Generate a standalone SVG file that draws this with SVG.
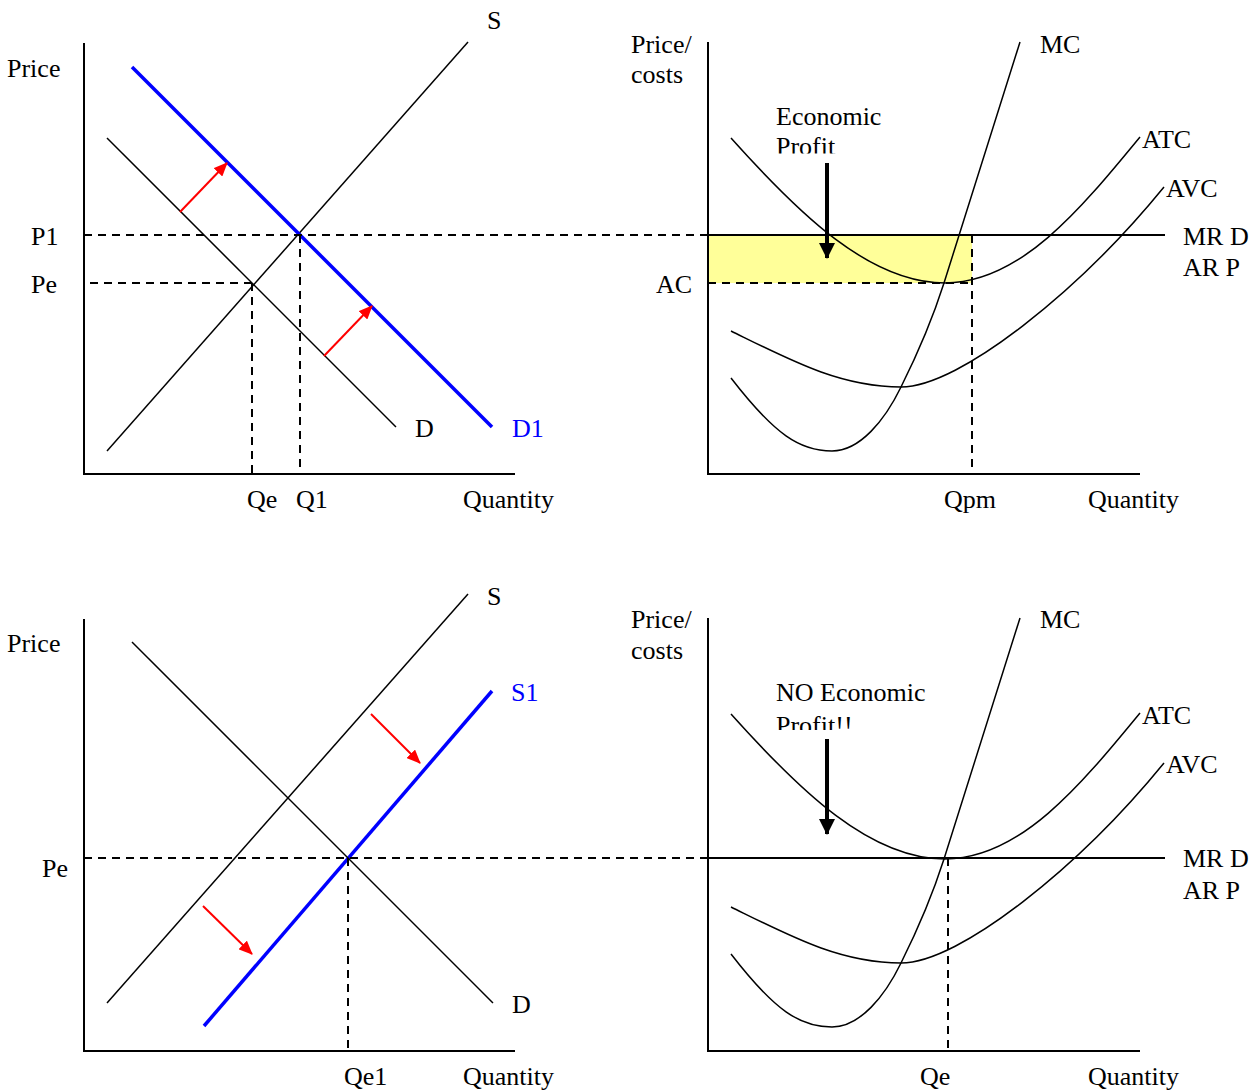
<svg xmlns="http://www.w3.org/2000/svg" width="1259" height="1091" viewBox="0 0 1259 1091">
<style>
text{font-family:"Liberation Serif","Times New Roman",serif;font-size:26px;fill:#000}
.blue{fill:#0000ff}
.axis{stroke:#000;stroke-width:2;fill:none}
.ln{stroke:#000;stroke-width:1.5;fill:none}
.dash{stroke:#000;stroke-width:2;stroke-dasharray:8,6;fill:none}
.bl{stroke:#0000ff;stroke-width:3.5;fill:none}
.red{stroke:#ff0000;stroke-width:2;fill:none;marker-end:url(#rh)}
.blk{stroke:#000;stroke-width:4;fill:none;marker-end:url(#bh)}
</style>
<defs>
<marker id="rh" markerUnits="userSpaceOnUse" markerWidth="14" markerHeight="12" refX="13" refY="6" orient="auto"><path d="M0,0 L14,6 L0,12 z" fill="#ff0000"/></marker>
<marker id="bh" markerUnits="userSpaceOnUse" markerWidth="16" markerHeight="16" refX="15" refY="8" orient="auto"><path d="M0,0 L16,8 L0,16 z" fill="#000"/></marker>
<clipPath id="c1"><rect x="760" y="90" width="200" height="63.5"/></clipPath>
<clipPath id="c2"><rect x="760" y="666" width="250" height="64"/></clipPath>
<path id="atc" d="M731,138 C800,215 870,283 945,283 C1020,283 1080,210 1140,137"/>
<path id="avc" d="M731,331 C790,360 840,387 901,387 C960,387 1080,290 1164,187"/>
<path id="mc" d="M731,378 C775,435 800,451 832,451 C860,451 885,420 901,387 C915,359 930,327 944,283 L1020,42"/>
</defs>

<!-- Top-left market graph -->
<g id="tl-axes">
<line class="axis" x1="84" y1="43" x2="84" y2="475"/>
<line class="axis" x1="83" y1="474" x2="515" y2="474"/>
<text x="7" y="77">Price</text>
<text x="463" y="508">Quantity</text>
</g>
<g id="tl-supply"><line class="ln" x1="107" y1="451" x2="468" y2="42"/><text x="487" y="29">S</text></g>
<g id="tl-demand"><line class="ln" x1="107" y1="138" x2="396" y2="427"/><text x="415" y="437">D</text></g>
<g id="tl-demand1"><line class="bl" x1="132" y1="67" x2="492" y2="427"/><text class="blue" x="512" y="437">D1</text></g>
<g id="tl-levels">
<text x="31" y="245">P1</text>
<text x="31" y="293">Pe</text>
<text x="247" y="508">Qe</text>
<text x="296" y="508">Q1</text>
</g>

<!-- Top-right firm graph -->
<g id="tr-profit"><rect x="708" y="235" width="264" height="48" fill="#ffff99"/></g>
<g id="tr-axes">
<line class="axis" x1="708" y1="42" x2="708" y2="475"/>
<line class="axis" x1="707" y1="474" x2="1140" y2="474"/>
<text x="631" y="53">Price/</text>
<text x="631" y="83">costs</text>
<text x="1088" y="508">Quantity</text>
</g>
<g id="tr-atc"><use href="#atc" class="ln"/><text x="1142" y="148">ATC</text></g>
<g id="tr-avc"><use href="#avc" class="ln"/><text x="1166" y="197">AVC</text></g>
<g id="tr-mc"><use href="#mc" class="ln"/><text x="1040" y="53">MC</text></g>
<g id="tr-mr"><line x1="708" y1="235" x2="1165" y2="235" stroke="#000" stroke-width="2"/><text x="1183" y="245">MR D</text><text x="1183" y="276">AR P</text></g>
<g id="tr-labels">
<text x="656" y="293">AC</text>
<text x="944" y="508">Qpm</text>
<text x="776" y="125">Economic</text>
<text x="776" y="155" clip-path="url(#c1)">Profit</text>
</g>

<!-- Bottom-left market graph -->
<g id="bl-axes">
<line class="axis" x1="84" y1="619" x2="84" y2="1052"/>
<line class="axis" x1="83" y1="1051" x2="515" y2="1051"/>
<text x="7" y="652">Price</text>
<text x="463" y="1085">Quantity</text>
</g>
<g id="bl-supply"><line class="ln" x1="107" y1="1003" x2="468" y2="594"/><text x="487" y="605">S</text></g>
<g id="bl-supply1"><line class="bl" x1="204" y1="1026" x2="492" y2="691"/><text class="blue" x="511" y="701">S1</text></g>
<g id="bl-demand"><line class="ln" x1="132" y1="642" x2="493" y2="1003"/><text x="512" y="1013">D</text></g>
<g id="bl-levels">
<text x="42" y="877">Pe</text>
<text x="344" y="1085">Qe1</text>
</g>

<!-- Bottom-right firm graph -->
<g id="br-axes">
<line class="axis" x1="708" y1="618" x2="708" y2="1052"/>
<line class="axis" x1="707" y1="1051" x2="1140" y2="1051"/>
<text x="631" y="628">Price/</text>
<text x="631" y="659">costs</text>
<text x="1088" y="1085">Quantity</text>
</g>
<g id="br-atc"><use href="#atc" class="ln" transform="translate(0,576)"/><text x="1142" y="724">ATC</text></g>
<g id="br-avc"><use href="#avc" class="ln" transform="translate(0,576)"/><text x="1166" y="773">AVC</text></g>
<g id="br-mc"><use href="#mc" class="ln" transform="translate(0,576)"/><text x="1040" y="628">MC</text></g>
<g id="br-mr"><line x1="708" y1="858" x2="1165" y2="858" stroke="#000" stroke-width="2"/><text x="1183" y="867">MR D</text><text x="1183" y="899">AR P</text></g>
<g id="br-labels">
<text x="920" y="1085">Qe</text>
<text x="776" y="701">NO Economic</text>
<text x="776" y="734" clip-path="url(#c2)">Profit!!</text>
</g>

<!-- Connectors: guide lines and arrows -->
<g id="connectors">
<line class="dash" x1="84" y1="235" x2="708" y2="235"/>
<line class="dash" x1="90" y1="283" x2="252" y2="283"/>
<line class="dash" x1="252" y1="283" x2="252" y2="474"/>
<line class="dash" x1="300" y1="235" x2="300" y2="474"/>
<line class="dash" x1="708" y1="283" x2="972" y2="283"/>
<line class="dash" x1="972" y1="235" x2="972" y2="474"/>
<line class="dash" x1="84" y1="858" x2="708" y2="858"/>
<line class="dash" x1="348" y1="858" x2="348" y2="1051"/>
<line class="dash" x1="948" y1="858" x2="948" y2="1051"/>
<line class="red" x1="180" y1="212" x2="227" y2="163"/>
<line class="red" x1="324" y1="356" x2="372" y2="306"/>
<line class="red" x1="371" y1="714" x2="420" y2="763"/>
<line class="red" x1="203" y1="906" x2="252" y2="954"/>
<line class="blk" x1="827" y1="163" x2="827" y2="258"/>
<line class="blk" x1="827" y1="739" x2="827" y2="834"/>
</g>
</svg>
